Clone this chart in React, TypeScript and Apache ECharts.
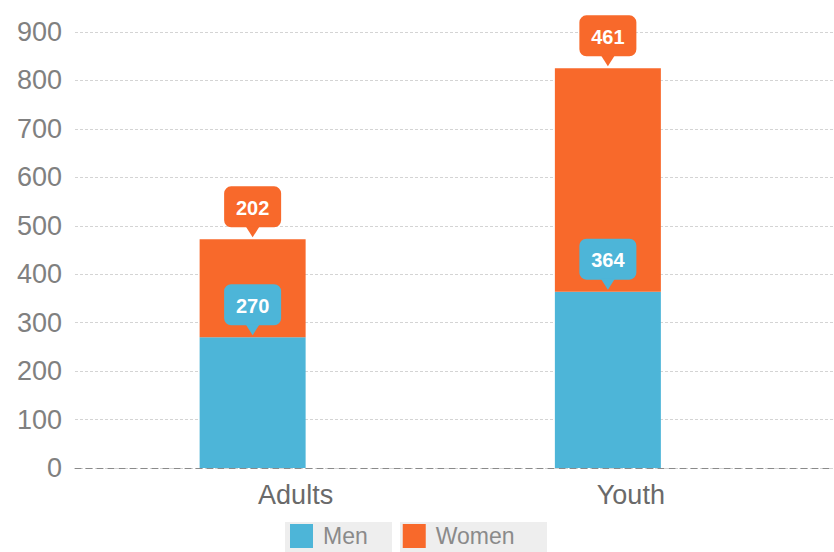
import React, { useEffect, useRef } from "react";
import * as echarts from "echarts";

const categories = ["Adults", "Youth"];
const menValues = [270, 364];
const womenValues = [202, 461];
const yTicks = { min: 0, max: 900, interval: 100 };

const BLUE = "#4db5d8";
const ORANGE = "#f8692b";
const FONT = "'Liberation Sans', Arial, sans-serif";
// horizontal shift of each category label relative to its bar (layout)
const LABEL_SHIFT = [43, 23];

export default function App() {
  const ref = useRef<HTMLDivElement>(null);
  useEffect(() => {
    if (!ref.current) return;
    const chart = echarts.init(ref.current, undefined, { renderer: "svg" });

    const bubbleData: any[] = [];
    categories.forEach((_, i) => {
      bubbleData.push([i, menValues[i], menValues[i], 0]);
      bubbleData.push([i, menValues[i] + womenValues[i], womenValues[i], 1]);
    });
    const labelData = categories.map((c, i) => ({
      value: c,
      textStyle: { padding: [0, 0, 0, LABEL_SHIFT[i] * 2] },
    }));

    const grid = { top: 32, bottom: 84 };
    chart.setOption({
      animation: false,
      grid: [
        { left: 75, right: 0, ...grid },
        { left: 75, right: 48.5, ...grid },
      ],
      legend: {
        data: ["Men", "Women"],
        left: 285,
        top: 524,
        padding: [0, 5, 0, 5],
        itemWidth: 23,
        itemHeight: 24,
        itemGap: 35,
        icon: "rect",
        textStyle: {
          fontFamily: FONT,
          fontSize: 23,
          lineHeight: 22,
          color: "#8a8a8a",
          padding: [0, 0, 0, 5],
        },
        selectedMode: false,
      },
      graphic: [
        { type: "rect", z: 0, shape: { x: 285, y: 522, width: 107, height: 32 }, style: { fill: "#eeeeee" } },
        { type: "rect", z: 0, shape: { x: 400, y: 522, width: 147, height: 32 }, style: { fill: "#eeeeee" } },
      ],
      xAxis: [
        {
          type: "category",
          gridIndex: 0,
          data: categories,
          show: true,
          axisLabel: { show: false },
          axisTick: { show: false },
          axisLine: { show: true, lineStyle: { color: "#8a8a8a", type: [6, 5], width: 1 } },
        },
        {
          type: "category",
          gridIndex: 1,
          data: labelData,
          axisLine: { show: false },
          axisTick: { show: false },
          axisLabel: {
            margin: 13,
            fontFamily: FONT,
            fontSize: 27,
            color: "#6a6a6a",
          },
        },
      ],
      yAxis: [
        {
          type: "value",
          gridIndex: 0,
          ...yTicks,
          axisLine: { show: false },
          axisTick: { show: false },
          axisLabel: {
            margin: 13,
            fontFamily: FONT,
            fontSize: 27,
            color: "#808080",
          },
          splitLine: { show: true, lineStyle: { color: "#d4d4d4", type: [3, 2], width: 1 } },
        },
        {
          type: "value",
          gridIndex: 1,
          ...yTicks,
          show: false,
          splitLine: { show: false },
        },
      ],
      series: [
        {
          name: "Men",
          type: "bar",
          xAxisIndex: 1,
          yAxisIndex: 1,
          stack: "total",
          barWidth: 106,
          data: menValues,
          itemStyle: { color: BLUE },
        },
        {
          name: "Women",
          type: "bar",
          xAxisIndex: 1,
          yAxisIndex: 1,
          stack: "total",
          barWidth: 106,
          data: womenValues,
          itemStyle: { color: ORANGE },
        },
        {
          name: "bubbles",
          type: "custom",
          xAxisIndex: 1,
          yAxisIndex: 1,
          z: 10,
          data: bubbleData,
          renderItem: (params: any, api: any) => {
            const p = api.coord([api.value(0), api.value(1)]);
            const color = api.value(3) === 0 ? BLUE : ORANGE;
            const bw = 57;
            const bh = 41;
            const tip = p[1] - 2;
            const bottom = p[1] - 12;
            const top = bottom - bh;
            return {
              type: "group",
              children: [
                {
                  type: "rect",
                  shape: { x: p[0] - bw / 2, y: top, width: bw, height: bh, r: 7 },
                  style: { fill: color },
                },
                {
                  type: "polygon",
                  shape: { points: [[p[0] - 7, bottom - 1], [p[0] + 7, bottom - 1], [p[0], tip]] },
                  style: { fill: color },
                },
                {
                  type: "text",
                  style: {
                    x: p[0],
                    y: top + bh / 2 + 1,
                    text: String(api.value(2)),
                    fill: "#ffffff",
                    font: `bold 20px ${FONT}`,
                    align: "center",
                    verticalAlign: "middle",
                  },
                },
              ],
            };
          },
        },
      ],
    });
    return () => chart.dispose();
  }, []);
  return (
    <div
      ref={ref}
      style={{
        position: "fixed",
        left: 0,
        top: 0,
        width: 834,
        height: 552,
        background: "#fff",
      }}
    />
  );
}
